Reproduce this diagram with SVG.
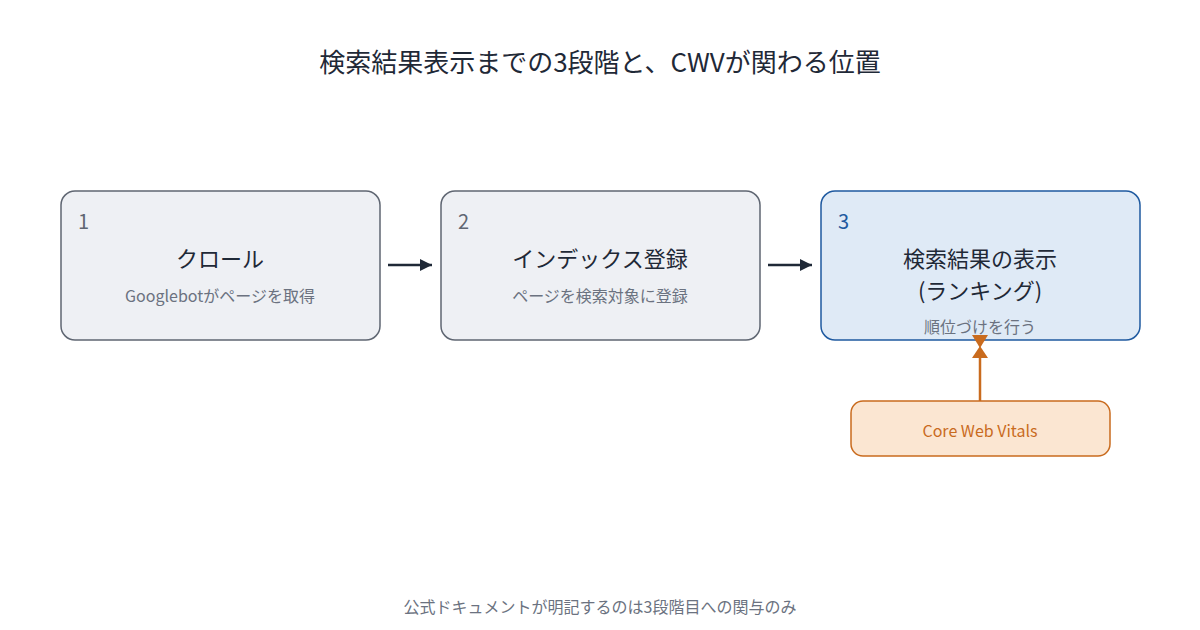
<svg xmlns="http://www.w3.org/2000/svg" width="1200" height="630" viewBox="0 0 1200 630">
<style>
text{font-family:"Noto Sans CJK JP","Noto Sans",sans-serif}
.box{fill:#eef0f4;stroke:#5f6672;stroke-width:1.5}
.num{font-size:20px;fill:#5f6672}
.title{font-size:22px;fill:#1f2937;text-anchor:middle}
.sub{font-size:16px;fill:#6b7280;text-anchor:middle}
.con{stroke:#1f2937;stroke-width:2.5;fill:none}
</style>
<defs>
<marker id="ah" viewBox="0 0 10 10" refX="10" refY="5" markerWidth="5" markerHeight="5" orient="auto"><path d="M0,0L10,5L0,10z" fill="#1f2937"/></marker>
</defs>
<rect width="1200" height="630" fill="#fff"/>
<text x="600" y="72" font-size="26" fill="#1f2937" text-anchor="middle">検索結果表示までの3段階と、CWVが関わる位置</text>
<g id="n1"><rect class="box" x="61" y="191" width="319" height="149" rx="14"/><text class="num" x="78" y="229">1</text><text class="title" x="220" y="267">クロール</text><text class="sub" x="220" y="302">Googlebotがページを取得</text></g>
<g id="n2"><rect class="box" x="441" y="191" width="319" height="149" rx="14"/><text class="num" x="458" y="229">2</text><text class="title" x="600" y="267">インデックス登録</text><text class="sub" x="600" y="302">ページを検索対象に登録</text></g>
<g id="n3"><rect x="821" y="191" width="319" height="149" rx="14" fill="#dfeaf6" stroke="#1f5aa0" stroke-width="1.5"/><text class="num" x="838" y="229" fill="#1f5aa0" style="fill:#1f5aa0">3</text><text class="title" x="980" y="267">検索結果の表示</text><text class="title" x="980" y="299">(ランキング)</text><text class="sub" x="980" y="333">順位づけを行う</text></g>
<g id="cwv"><rect x="851" y="401" width="259" height="55" rx="12" fill="#fbe6d2" stroke="#c96b1e" stroke-width="1.5"/><text x="980" y="437" font-size="16" fill="#c96b1e" text-anchor="middle">Core Web Vitals</text></g>
<g id="connectors">
<line class="con" x1="388" y1="265" x2="432" y2="265" marker-end="url(#ah)"/>
<line class="con" x1="768" y1="265" x2="812" y2="265" marker-end="url(#ah)"/>
<line x1="980" y1="401" x2="980" y2="350" stroke="#c96b1e" stroke-width="2.5"/>
<path d="M972,335L988,335L980,348z" fill="#c96b1e"/>
<path d="M972,358L988,358L980,346z" fill="#c96b1e"/>
</g>
<text x="600" y="613" font-size="16" fill="#6b7280" text-anchor="middle">公式ドキュメントが明記するのは3段階目への関与のみ</text>
</svg>
